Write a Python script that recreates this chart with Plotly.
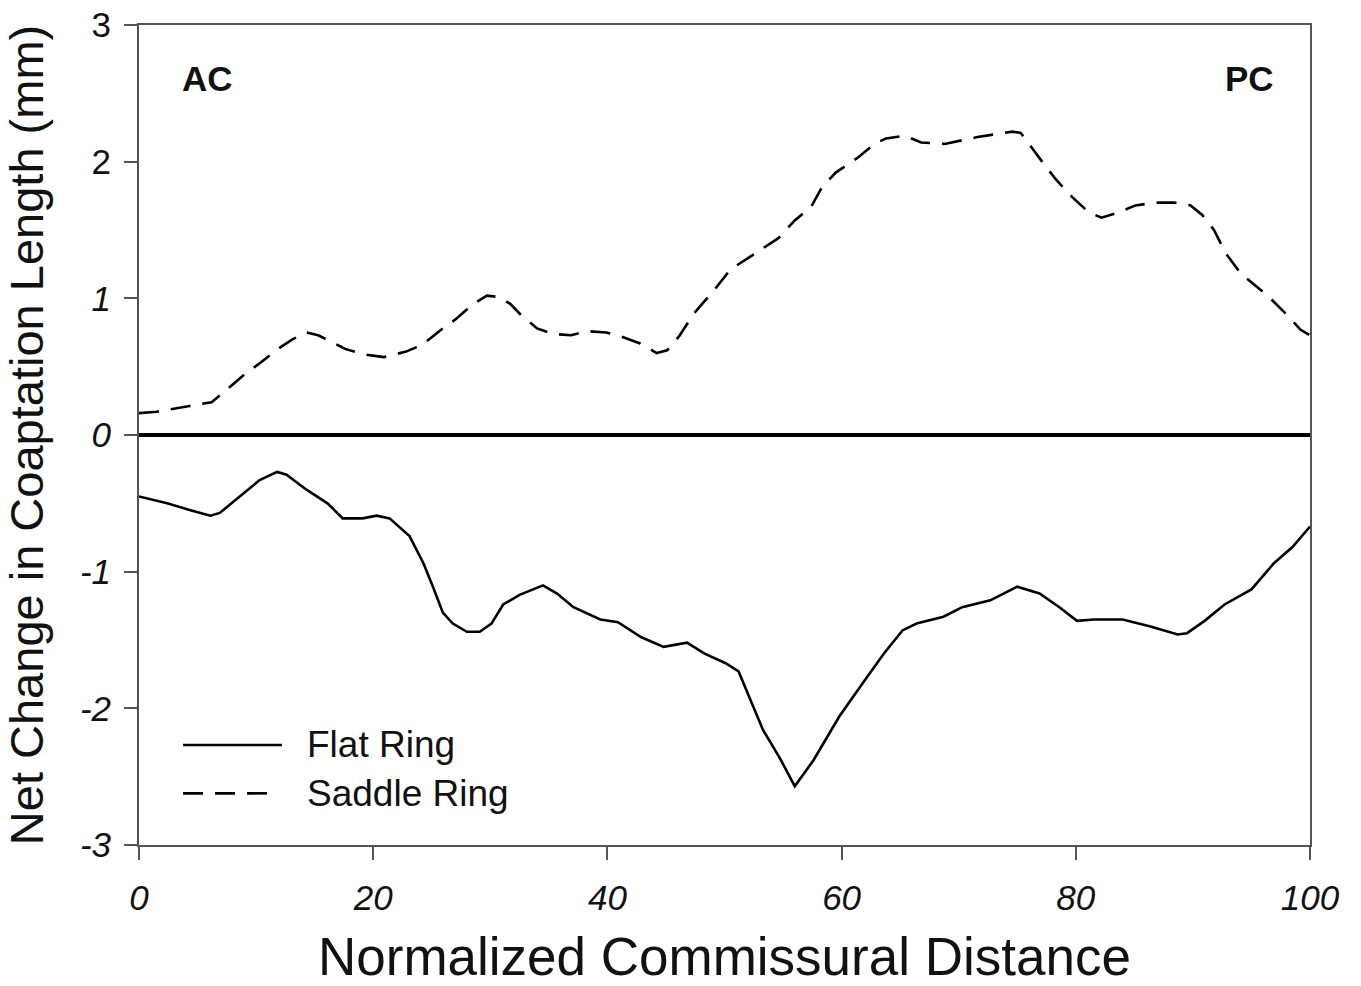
import plotly.graph_objects as go

# Saddle ring (dashed)
saddle_x = [0.0, 1.5, 4.2, 6.2, 7.2, 9.1, 10.4, 11.7, 13.1, 14.3, 15.3, 16.0, 17.6, 19.2, 20.9,
            22.8, 24.2, 25.8, 27.1, 28.4, 29.7, 30.7, 31.7, 32.6, 34.0, 35.3, 36.9, 38.3, 39.9,
            41.2, 42.8, 44.2, 45.1, 46.1, 47.4, 48.0, 49.3, 50.5, 51.9, 54.6, 56.0, 57.4, 58.3,
            59.5, 61.4, 62.8, 63.8, 65.4, 66.8, 68.8, 71.6, 74.6, 75.3, 76.4, 77.3, 78.3, 79.7,
            81.1, 82.2, 83.7, 85.1, 86.8, 88.4, 89.8, 90.8, 91.8, 92.8, 94.1, 95.1, 96.5, 97.9,
            99.2, 100.0]
saddle_y = [0.16, 0.17, 0.21, 0.24, 0.31, 0.45, 0.53, 0.62, 0.70, 0.75, 0.73, 0.70, 0.63, 0.59, 0.57,
            0.61, 0.66, 0.77, 0.85, 0.95, 1.02, 1.01, 0.96, 0.88, 0.78, 0.74, 0.73, 0.76, 0.75,
            0.72, 0.67, 0.60, 0.62, 0.72, 0.89, 0.95, 1.08, 1.21, 1.29, 1.44, 1.57, 1.67, 1.81,
            1.92, 2.03, 2.13, 2.17, 2.19, 2.14, 2.13, 2.18, 2.22, 2.21, 2.08, 1.98, 1.87, 1.74,
            1.63, 1.59, 1.63, 1.68, 1.70, 1.70, 1.68, 1.61, 1.50, 1.33, 1.18, 1.11, 1.01, 0.89,
            0.77, 0.73]

# Flat ring (solid)
flat_x = [0.0, 2.4, 4.4, 6.1, 6.9, 8.6, 10.3, 11.8, 12.6, 14.3, 16.1, 17.4, 19.1, 20.3, 21.4,
          23.1, 24.3, 25.1, 25.95, 26.8, 28.0, 29.1, 30.1, 31.1, 32.5, 34.5, 35.7, 37.1, 39.4,
          40.9, 42.9, 44.8, 46.8, 48.3, 50.1, 51.2, 51.9, 53.3, 54.7, 56.0, 57.6, 59.8, 62.1,
          63.6, 65.2, 66.4, 68.7, 70.3, 72.7, 73.9, 75.0, 76.9, 78.6, 80.1, 81.6, 84.0, 86.3,
          88.7, 89.5, 91.0, 92.7, 95.0, 96.9, 98.5, 100.0]
flat_y = [-0.45, -0.50, -0.55, -0.59, -0.57, -0.45, -0.33, -0.27, -0.29, -0.40, -0.50, -0.61, -0.61,
          -0.59, -0.61, -0.74, -0.94, -1.11, -1.30, -1.38, -1.44, -1.44, -1.38, -1.24, -1.17, -1.10,
          -1.16, -1.26, -1.35, -1.37, -1.48, -1.55, -1.52, -1.60, -1.67, -1.73, -1.87, -2.16, -2.36,
          -2.57, -2.38, -2.06, -1.78, -1.60, -1.43, -1.38, -1.33, -1.26, -1.21, -1.16, -1.11, -1.16,
          -1.26, -1.36, -1.35, -1.35, -1.40, -1.46, -1.45, -1.36, -1.24, -1.13, -0.94, -0.82, -0.67]

x_ticks = [0, 20, 40, 60, 80, 100]
y_ticks = [-3, -2, -1, 0, 1, 2, 3]
y_ticktext = ["<i>-3</i>", "<i>-2</i>", "<i>-1</i>", "<i>0</i>", "<i>1</i>", "2", "3"]
series_names = ["Flat Ring", "Saddle Ring"]
end_labels = ["AC", "PC"]

FONT = "Liberation Sans, Arial, sans-serif"
DASH = "20px,12px"
INK = "#111111"

fig = go.Figure()
fig.add_trace(go.Scatter(x=flat_x, y=flat_y, mode="lines", name=series_names[0],
                         line=dict(color="black", width=2.6), showlegend=False))
fig.add_trace(go.Scatter(x=saddle_x, y=saddle_y, mode="lines", name=series_names[1],
                         line=dict(color="black", width=2.6, dash=DASH), showlegend=False))

axis_common = dict(showgrid=False, showline=True, linecolor="#555555", linewidth=2,
                   mirror=True, ticks="outside", ticklen=13, tickwidth=1.5, tickcolor="#555555",
                   ticklabeloverflow="allow", automargin=False)

fig.update_xaxes(range=[0, 100], tickvals=x_ticks, ticktext=[f"<i>{v}</i>" for v in x_ticks],
                 tickfont=dict(family=FONT, size=35, color=INK), ticklabelstandoff=8,
                 title=dict(text="Normalized Commissural Distance",
                            font=dict(family=FONT, size=53, color=INK), standoff=24),
                 zeroline=False, **axis_common)
fig.update_yaxes(range=[-3, 3], tickvals=y_ticks, ticktext=y_ticktext,
                 tickfont=dict(family=FONT, size=35, color=INK), ticklabelstandoff=6,
                 title=dict(text="Net Change in Coaptation Length (mm)",
                            font=dict(family=FONT, size=47, color=INK), standoff=22),
                 zeroline=True, zerolinecolor="black", zerolinewidth=4, **axis_common)

annotations = [
    dict(text="<b>" + end_labels[0] + "</b>", x=0.035, y=0.935, xref="paper", yref="paper",
         xanchor="left", yanchor="middle", showarrow=False,
         font=dict(family=FONT, size=35, color=INK)),
    dict(text="<b>" + end_labels[1] + "</b>", x=0.971, y=0.935, xref="paper", yref="paper",
         xanchor="right", yanchor="middle", showarrow=False,
         font=dict(family=FONT, size=35, color=INK)),
    dict(text=series_names[0], x=0.142, y=0.122, xref="paper", yref="paper",
         xanchor="left", yanchor="middle", showarrow=False,
         font=dict(family=FONT, size=37, color=INK)),
    dict(text=series_names[1], x=0.142, y=0.063, xref="paper", yref="paper",
         xanchor="left", yanchor="middle", showarrow=False,
         font=dict(family=FONT, size=37, color=INK)),
]
shapes = [
    dict(type="line", xref="paper", yref="paper", x0=0.0376, x1=0.122, y0=0.122, y1=0.122,
         line=dict(color="black", width=2.6)),
    dict(type="line", xref="paper", yref="paper", x0=0.0376, x1=0.112, y0=0.063, y1=0.063,
         line=dict(color="black", width=2.6, dash=DASH)),
]

fig.update_layout(width=1361, height=986,
                  margin=dict(l=139, r=51, t=25, b=141, pad=0, autoexpand=False),
                  paper_bgcolor="white", plot_bgcolor="white",
                  annotations=annotations, shapes=shapes, showlegend=False)

# remove the default page margin so the figure sits at the top-left of the window
fig.write_html("out.html",
               config={"displayModeBar": False},
               post_script="document.body.style.margin='0';document.body.style.overflow='hidden';")
